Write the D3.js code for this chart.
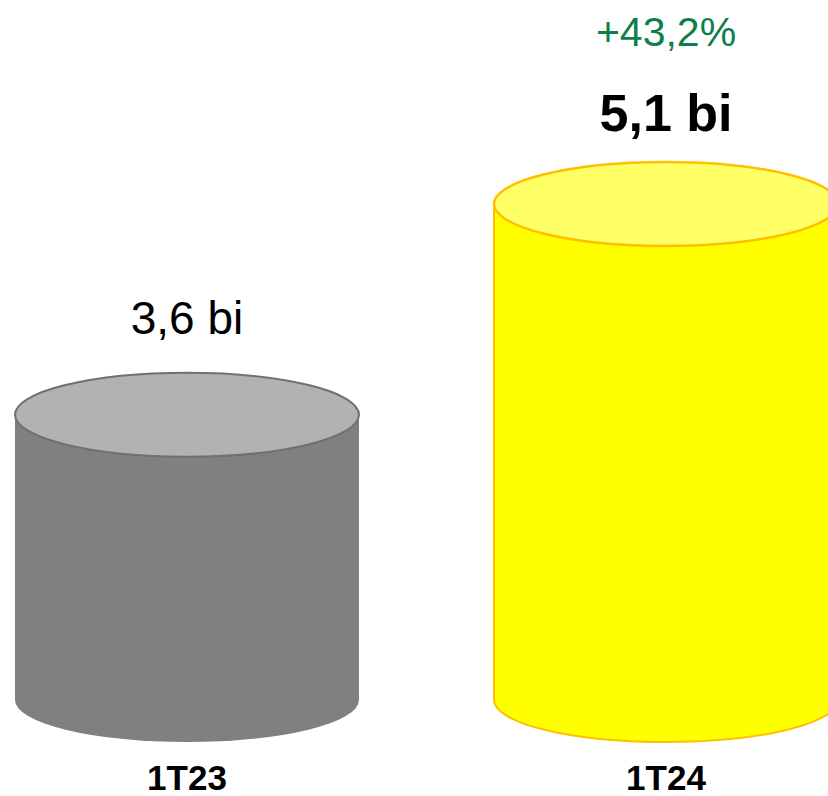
<!DOCTYPE html>
<html>
<head>
<meta charset="utf-8">
<script src="https://cdn.jsdelivr.net/npm/d3@7"></script>
<style>
	html, body { margin: 0; padding: 0; background: #fff; }
	svg { display: block; font-family: "Liberation Sans", Arial, sans-serif; }
</style>
</head>
<body>
<svg id="chart" width="828" height="796"></svg>
<script>
// chart values
const categories = ["1T23", "1T24"];
const values = [3.6, 5.1];
const valueLabels = ["3,6 bi", "5,1 bi"];
const growthLabel = "+43,2%";

const W = 828, H = 796;
const baseY = 700;
const rx = 172, ry = 42;

const svg = d3.select("#chart");

const x = d3.scalePoint().domain(categories).range([187, 666]);
// the cylinders are not drawn from zero in the original, so the domain starts near 1.57
const y = d3.scaleLinear().domain([1.57, 5.1]).range([baseY, 204]);

const styles = [
	{ side: "#808080", top: "#b2b2b2", stroke: "#707070", sideStroke: "none" },
	{ side: "#ffff00", top: "#ffff66", stroke: "#ffc000", sideStroke: "#ffc000" },
];

const data = categories.map((c, i) => ({ cat: c, value: values[i], label: valueLabels[i], i }));

const bars = svg.selectAll("g.bar").data(data).join("g").attr("class", "bar");

// body: side + rounded bottom
bars.append("path")
	.attr("d", d => {
		const cx = x(d.cat), top = y(d.value);
		return `M${cx - rx},${top} L${cx - rx},${baseY} A${rx},${ry} 0 0 0 ${cx + rx},${baseY} L${cx + rx},${top} Z`;
	})
	.attr("fill", d => styles[d.i].side)
	.attr("stroke", d => styles[d.i].sideStroke)
	.attr("stroke-width", 2);

// top lid
bars.append("ellipse")
	.attr("cx", d => x(d.cat))
	.attr("cy", d => y(d.value))
	.attr("rx", rx)
	.attr("ry", ry)
	.attr("fill", d => styles[d.i].top)
	.attr("stroke", d => styles[d.i].stroke)
	.attr("stroke-width", d => d.i === 1 ? 2.5 : 2);

// value labels
bars.append("text")
	.attr("x", d => x(d.cat))
	.attr("y", d => y(d.value) - ry - (d.i === 1 ? 31 : 39))
	.attr("text-anchor", "middle")
	.attr("font-size", d => d.i === 1 ? 52 : 46)
	.attr("font-weight", d => d.i === 1 ? "bold" : "normal")
	.attr("fill", "#000")
	.text(d => d.label);

// growth label above last bar
svg.append("text")
	.attr("x", x(categories[1]))
	.attr("y", y(values[1]) - ry - 116)
	.attr("text-anchor", "middle")
	.attr("font-size", 41)
	.attr("fill", "#0e7f4a")
	.text(growthLabel);

// category axis labels
bars.append("text")
	.attr("x", d => x(d.cat))
	.attr("y", 790)
	.attr("text-anchor", "middle")
	.attr("font-size", 35)
	.attr("font-weight", "bold")
	.attr("fill", "#000")
	.text(d => d.cat);
</script>
</body>
</html>
